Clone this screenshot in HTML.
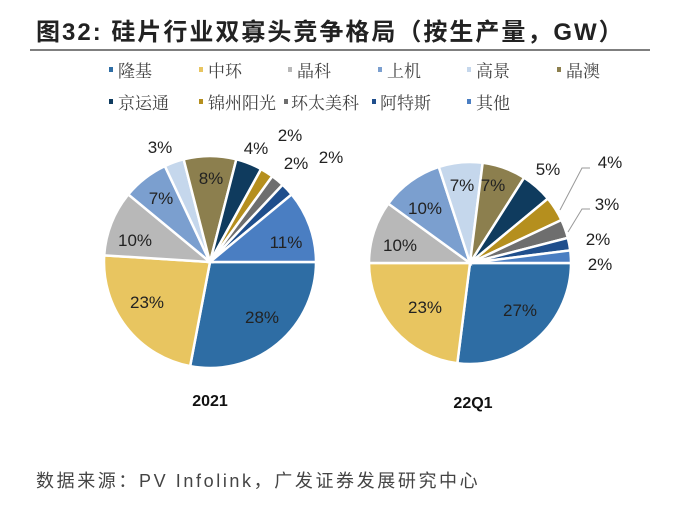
<!DOCTYPE html>
<html><head><meta charset="utf-8"><style>
body{margin:0;width:692px;height:502px;background:#fff;overflow:hidden;font-family:"Liberation Sans","Noto Sans CJK SC",sans-serif;}
</style></head><body>
<svg id="s" width="692" height="502" xmlns="http://www.w3.org/2000/svg" font-family="Liberation Sans, Noto Sans CJK SC, sans-serif">
<text x="36" y="40" font-size="24" font-weight="bold" fill="#222" letter-spacing="2">图32:  硅片行业双寡头竞争格局（按生产量，GW）</text>
<line x1="30" y1="50" x2="650" y2="50" stroke="#555" stroke-width="1.5"/>
<g font-size="17" fill="#444" font-family="Noto Serif CJK SC, serif">
<rect x="109" y="67" width="4" height="5" fill="#2e6da4"/><text x="118" y="77">隆基</text>
<rect x="199" y="67" width="4" height="5" fill="#e8c560"/><text x="208" y="77">中环</text>
<rect x="288" y="67" width="4" height="5" fill="#b8b8b8"/><text x="297" y="77">晶科</text>
<rect x="378" y="67" width="4" height="5" fill="#7b9fcf"/><text x="387" y="77">上机</text>
<rect x="467" y="67" width="4" height="5" fill="#c5d7ec"/><text x="476" y="77">高景</text>
<rect x="557" y="67" width="4" height="5" fill="#8c7f4e"/><text x="566" y="77">晶澳</text>
<rect x="109" y="99" width="4" height="5" fill="#0f3b5e"/><text x="118" y="109">京运通</text>
<rect x="199" y="99" width="4" height="5" fill="#b58f1e"/><text x="208" y="109">锦州阳光</text>
<rect x="284" y="99" width="4" height="5" fill="#6e6e6e"/><text x="291" y="109">环太美科</text>
<rect x="372" y="99" width="4" height="5" fill="#1f4e8c"/><text x="380" y="109">阿特斯</text>
<rect x="467" y="99" width="4" height="5" fill="#4a7ec2"/><text x="476" y="109">其他</text>
</g>
<g id="p1"></g><g id="p2"></g>
<g font-size="17" fill="#222" text-anchor="middle">
<text x="262" y="323">28%</text><text x="147" y="308">23%</text><text x="135" y="246">10%</text>
<text x="161" y="204">7%</text><text x="160" y="153">3%</text><text x="211" y="184">8%</text>
<text x="256" y="154">4%</text><text x="290" y="141">2%</text><text x="296" y="169">2%</text>
<text x="331" y="163">2%</text><text x="286" y="248">11%</text>
<text x="520" y="316">27%</text><text x="425" y="313">23%</text><text x="400" y="251">10%</text>
<text x="425" y="214">10%</text><text x="462" y="191">7%</text><text x="493" y="191">7%</text>
<text x="548" y="175">5%</text><text x="610" y="168">4%</text><text x="607" y="210">3%</text>
<text x="598" y="245">2%</text><text x="600" y="270">2%</text>
</g>
<g stroke="#999" fill="none" stroke-width="1">
<polyline points="560,210 582,168 590,168"/><polyline points="568,232 582,209 590,209"/>
</g>
<text x="210" y="406" font-size="16" font-weight="bold" text-anchor="middle" fill="#111">2021</text>
<text x="473" y="408" font-size="16" font-weight="bold" text-anchor="middle" fill="#111">22Q1</text>
<text x="36" y="487" font-size="18" fill="#444" letter-spacing="2.6">数据来源：PV Infolink，广发证券发展研究中心</text>
</svg>
<script>
var C=["#2e6da4","#e8c560","#b8b8b8","#7b9fcf","#c5d7ec","#8c7f4e","#0f3b5e","#b58f1e","#6e6e6e","#1f4e8c","#4a7ec2"];
function pie(id,cx,cy,r,v){var g=document.getElementById(id),a=0,h="";
v.forEach(function(p,i){var a0=a*3.6*Math.PI/180;a+=p;var a1=a*3.6*Math.PI/180;
var x0=cx+r*Math.cos(a0),y0=cy+r*Math.sin(a0),x1=cx+r*Math.cos(a1),y1=cy+r*Math.sin(a1);
h+='<path d="M'+cx+','+cy+'L'+x0+','+y0+'A'+r+','+r+' 0 '+(p>50?1:0)+' 1 '+x1+','+y1+'Z" fill="'+C[i]+'" stroke="#fff" stroke-width="2.5"/>';});
g.innerHTML=h;}
pie("p1",210,262,106,[28,23,10,7,3,8,4,2,2,2,11]);
pie("p2",470,263,101,[27,23,10,10,7,7,5,4,3,2,2]);
</script>
</body></html>
